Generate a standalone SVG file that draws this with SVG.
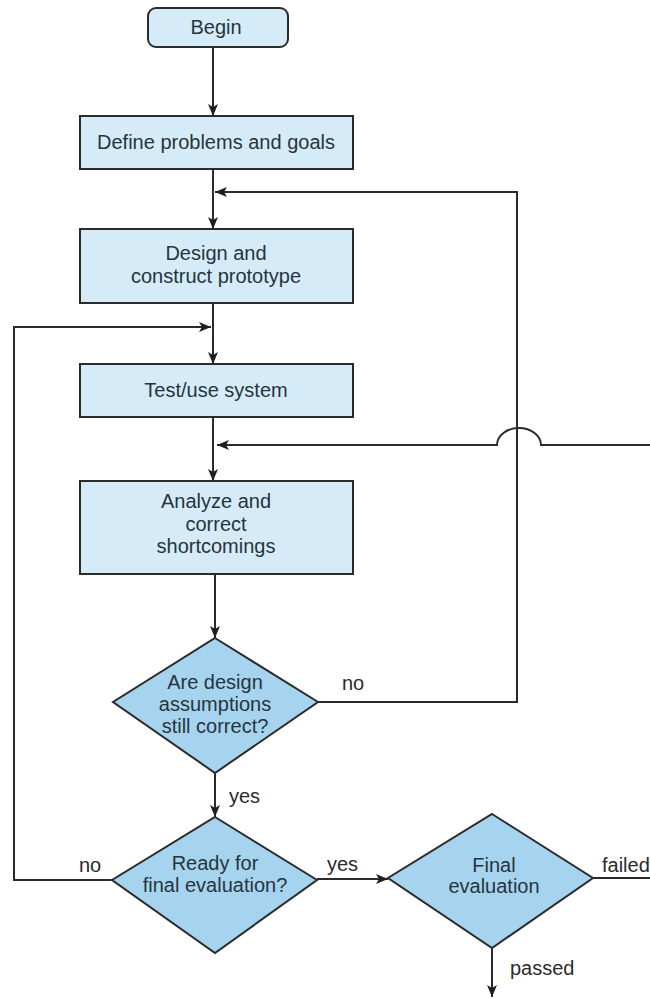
<svg xmlns="http://www.w3.org/2000/svg" width="650" height="999" viewBox="0 0 650 999">
<style>
  .box { fill: #d5ecf8; stroke: #2b2b2b; stroke-width: 2; }
  .dia { fill: #a6d4ef; stroke: #2b2b2b; stroke-width: 2; }
  .t { font-family: "Liberation Sans", Arial, sans-serif; font-size: 20px; fill: #26343e; text-anchor: middle; }
  .lbl { font-family: "Liberation Sans", Arial, sans-serif; font-size: 20px; fill: #2b2b2b; }
  .c { fill: none; stroke: #2b2b2b; stroke-width: 2; }
  .ca { fill: none; stroke: #2b2b2b; stroke-width: 2; marker-end: url(#ah); }
</style>
<defs>
  <marker id="ah" viewBox="0 0 12 10" refX="12" refY="5" markerWidth="12" markerHeight="10" markerUnits="userSpaceOnUse" orient="auto">
    <path d="M0,0 L12,5 L0,10 L3,5 Z" fill="#1e1e1e"/>
  </marker>
</defs>
<rect width="650" height="999" fill="#ffffff"/>

<g id="connectors">
  <line class="ca" x1="213" y1="47" x2="213" y2="116"/>
  <line class="ca" x1="213" y1="169" x2="213" y2="229"/>
  <polyline class="ca" points="318,702 517,702 517,192 215,192"/>
  <line class="ca" x1="213" y1="303" x2="213" y2="364"/>
  <polyline class="ca" points="112,880 14,880 14,327 211,327"/>
  <line class="ca" x1="213" y1="417" x2="213" y2="481"/>
  <path class="ca" d="M650,445 L541,445 A22,17 0 0 0 497,445 L217,445"/>
  <line class="ca" x1="215" y1="574" x2="215" y2="638"/>
  <line class="ca" x1="215" y1="773" x2="215" y2="817"/>
  <line class="ca" x1="317" y1="879" x2="388" y2="879"/>
  <line class="ca" x1="492" y1="948" x2="492" y2="997"/>
  <line class="c" x1="593" y1="878" x2="650" y2="878"/>
  <text class="lbl" x="342" y="690">no</text>
  <text class="lbl" x="229" y="803">yes</text>
  <text class="lbl" x="79" y="872">no</text>
  <text class="lbl" x="327" y="871">yes</text>
  <text class="lbl" x="602" y="872">failed</text>
  <text class="lbl" x="510" y="975">passed</text>
</g>

<g id="begin">
  <rect class="box" x="148" y="8" width="140" height="39" rx="8" ry="8"/>
  <text class="t" x="216" y="34">Begin</text>
</g>

<g id="define">
  <rect class="box" x="80" y="116" width="273" height="53"/>
  <text class="t" x="216" y="149">Define problems and goals</text>
</g>

<g id="design">
  <rect class="box" x="80" y="229" width="273" height="74"/>
  <text class="t" x="216" y="260">Design and</text>
  <text class="t" x="216" y="283">construct prototype</text>
</g>

<g id="test">
  <rect class="box" x="80" y="364" width="273" height="53"/>
  <text class="t" x="216" y="397">Test/use system</text>
</g>

<g id="analyze">
  <rect class="box" x="80" y="481" width="273" height="93"/>
  <text class="t" x="216" y="508">Analyze and</text>
  <text class="t" x="216" y="531">correct</text>
  <text class="t" x="216" y="553">shortcomings</text>
</g>

<g id="assumptions">
  <polygon class="dia" points="215,638 318,702 215,773 113,702"/>
  <text class="t" x="215" y="689">Are design</text>
  <text class="t" x="215" y="711">assumptions</text>
  <text class="t" x="215" y="733">still correct?</text>
</g>

<g id="ready">
  <polygon class="dia" points="215,817 317,880 215,953 112,880"/>
  <text class="t" x="215" y="870">Ready for</text>
  <text class="t" x="215" y="892">final evaluation?</text>
</g>

<g id="final">
  <polygon class="dia" points="492,814 593,878 492,948 388,878"/>
  <text class="t" x="494" y="872">Final</text>
  <text class="t" x="494" y="893">evaluation</text>
</g>
</svg>
